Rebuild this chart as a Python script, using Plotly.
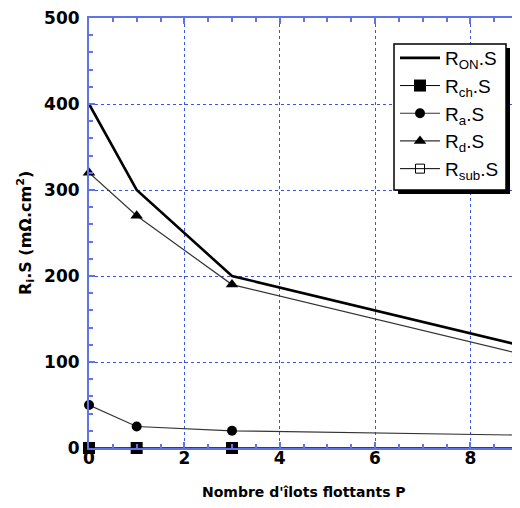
import plotly.graph_objects as go

P = [0, 1, 3, 9]
R_ON = [400, 300, 200, 120]
R_ch = [0, 0, 0, 0]
R_a = [50, 25, 20, 15]
R_d = [320, 270, 190, 110]
R_sub = [0, 0, 0, 0]

x_ticks = [0, 2, 4, 6, 8]
y_ticks = [0, 100, 200, 300, 400, 500]

AXIS_BLUE = "#5f74ea"
GRID_BLUE = "#3a52e6"
FONT = "Liberation Sans, Arial, sans-serif"
BOLDFONT = "DejaVu Sans, sans-serif"

fig = go.Figure()
fig.add_trace(go.Scatter(x=P, y=R_ON, mode="lines", name="R<sub>ON</sub>.S",
                         line=dict(color="black", width=2.6), cliponaxis=False))
fig.add_trace(go.Scatter(x=P, y=R_ch, mode="lines+markers", name="R<sub>ch</sub>.S",
                         line=dict(color="black", width=1),
                         marker=dict(symbol="square", size=12, color="black"), cliponaxis=False))
fig.add_trace(go.Scatter(x=P, y=R_a, mode="lines+markers", name="R<sub>a</sub>.S",
                         line=dict(color="#333333", width=1.2),
                         marker=dict(symbol="circle", size=10, color="black"), cliponaxis=False))
fig.add_trace(go.Scatter(x=P, y=R_d, mode="lines+markers", name="R<sub>d</sub>.S",
                         line=dict(color="#333333", width=1.2),
                         marker=dict(symbol="triangle-up", size=11, color="black"), cliponaxis=False))
fig.add_trace(go.Scatter(x=P, y=R_sub, mode="lines+markers", name="R<sub>sub</sub>.S",
                         line=dict(color="black", width=1),
                         marker=dict(symbol="square-open", size=9, color="black"),
                         cliponaxis=False))

axis_common = dict(
    showline=True, linecolor=AXIS_BLUE, linewidth=2, mirror="allticks",
    ticks="inside", tickcolor=AXIS_BLUE, ticklen=6, tickwidth=1.5,
    showgrid=True, gridcolor=GRID_BLUE, griddash="dot", gridwidth=1,
    zeroline=False, automargin=False, ticklabeloverflow="allow",
    tickfont=dict(family=BOLDFONT, size=17, color="black", weight="bold"),
)

fig.update_xaxes(range=[0, 9], tickvals=x_ticks, ticktext=[str(v) for v in x_ticks],
                 minor=dict(dtick=0.5, ticks="inside", ticklen=4, tickcolor=AXIS_BLUE, showgrid=False),
                 ticklabelstandoff=-6,
                 **axis_common)
fig.update_yaxes(range=[0, 500], tickvals=y_ticks, ticktext=[str(v) for v in y_ticks],
                 minor=dict(dtick=20, ticks="inside", ticklen=4, tickcolor=AXIS_BLUE, showgrid=False),
                 ticklabelstandoff=4,
                 **axis_common)

fig.add_annotation(text="Nombre d'îlots flottants P", xref="paper", yref="paper",
                   x=0.5, y=-44/430, xanchor="center", yanchor="middle", showarrow=False,
                   font=dict(family=BOLDFONT, size=14, color="black", weight="bold"))
fig.add_annotation(text="R<sub>i</sub>.S (mΩ.cm<sup>2</sup>)", xref="paper", yref="paper",
                   x=-64/429, y=0.5, xanchor="center", yanchor="middle", showarrow=False,
                   textangle=-90,
                   font=dict(family=BOLDFONT, size=16, color="black", weight="bold"))

# legend frame with drop shadow (page pixel positions converted to paper coords)
def px(v):
    return (v - 89) / 429

def py(v):
    return (448 - v) / 430

fig.add_shape(type="rect", xref="paper", yref="paper",
              x0=px(398), x1=px(510), y0=py(194), y1=py(48),
              fillcolor="black", line=dict(width=0), layer="above")
fig.add_shape(type="rect", xref="paper", yref="paper",
              x0=px(394), x1=px(506), y0=py(190), y1=py(44),
              fillcolor="white", line=dict(color="black", width=1.5), layer="above")

fig.update_layout(
    width=512, height=492,
    margin=dict(l=81, r=2, t=10, b=52),
    plot_bgcolor="white", paper_bgcolor="white",
    showlegend=True,
    legend=dict(x=px(395), y=py(39), xanchor="left", yanchor="top",
                bgcolor="rgba(0,0,0,0)", borderwidth=0,
                font=dict(family=FONT, size=19, color="black"),
                tracegroupgap=0, itemwidth=40),
)

fig.write_html("out.html")
